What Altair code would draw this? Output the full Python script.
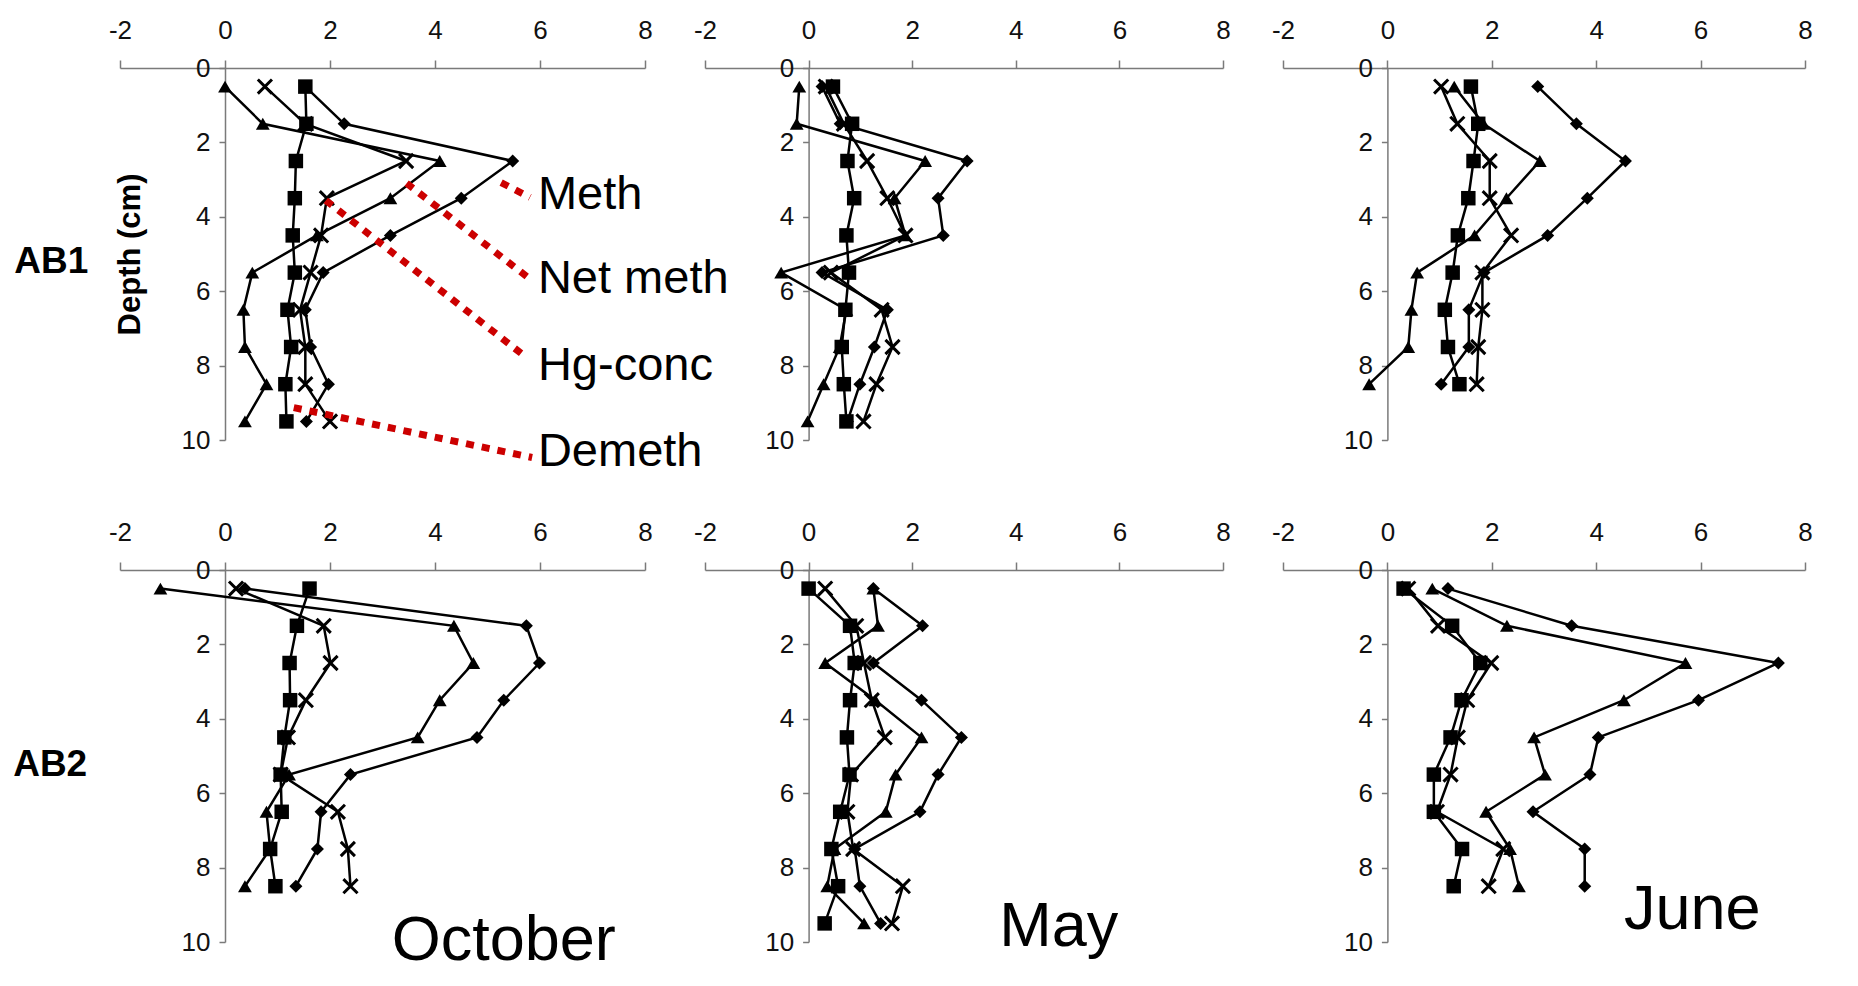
import altair as alt
import pandas as pd

FONT = "Liberation Sans"

SITES = ["AB1", "AB2"]
MONTHS = ["October", "May", "June"]
SERIES = ["Meth", "Net meth", "Hg-conc", "Demeth"]
X_TICKS = [-2, 0, 2, 4, 6, 8]
Y_TICKS = [0, 2, 4, 6, 8, 10]

DEPTH_10 = [0.5, 1.5, 2.5, 3.5, 4.5, 5.5, 6.5, 7.5, 8.5, 9.5]
DEPTH_9 = [0.5, 1.5, 2.5, 3.5, 4.5, 5.5, 6.5, 7.5, 8.5]

# AB1 - October
AB1_OCT_METH = [1.53, 2.27, 5.48, 4.50, 3.15, 1.87, 1.53, 1.63, 1.97, 1.55]
AB1_OCT_NET = [0.00, 0.72, 4.09, 3.15, 1.75, 0.52, 0.35, 0.38, 0.79, 0.38]
AB1_OCT_HG = [0.76, 1.53, 3.45, 1.94, 1.83, 1.63, 1.43, 1.53, 1.53, 2.00]
AB1_OCT_DEMETH = [1.53, 1.55, 1.35, 1.33, 1.29, 1.33, 1.19, 1.26, 1.15, 1.17]

# AB1 - May
AB1_MAY_METH = [0.26, 0.61, 3.06, 2.50, 2.60, 0.26, 1.52, 1.27, 0.99, 0.75]
AB1_MAY_NET = [-0.18, -0.23, 2.25, 1.66, 1.87, -0.53, 0.73, 0.60, 0.29, -0.02]
AB1_MAY_HG = [0.33, 0.68, 1.13, 1.52, 1.87, 0.43, 1.41, 1.62, 1.31, 1.06]
AB1_MAY_DEMETH = [0.47, 0.84, 0.75, 0.88, 0.73, 0.78, 0.71, 0.64, 0.68, 0.73]

# AB1 - June
AB1_JUN_METH = [2.88, 3.62, 4.56, 3.83, 3.07, 1.85, 1.56, 1.56, 1.03]
AB1_JUN_NET = [1.28, 1.84, 2.92, 2.28, 1.67, 0.57, 0.46, 0.40, -0.35]
AB1_JUN_HG = [1.03, 1.34, 1.96, 1.96, 2.37, 1.82, 1.82, 1.74, 1.71]
AB1_JUN_DEMETH = [1.60, 1.74, 1.65, 1.55, 1.35, 1.25, 1.10, 1.16, 1.38]

# AB2 - October
AB2_OCT_METH = [0.38, 5.74, 5.99, 5.31, 4.80, 2.39, 1.83, 1.76, 1.35]
AB2_OCT_NET = [-1.23, 4.36, 4.73, 4.09, 3.67, 1.22, 0.79, 0.86, 0.38]
AB2_OCT_HG = [0.21, 1.88, 2.01, 1.54, 1.20, 1.06, 2.15, 2.34, 2.39]
AB2_OCT_DEMETH = [1.61, 1.37, 1.23, 1.24, 1.13, 1.06, 1.08, 0.86, 0.96]

# AB2 - May
AB2_MAY_METH = [1.25, 2.20, 1.25, 2.18, 2.95, 2.50, 2.15, 0.89, 0.99, 1.39]
AB2_MAY_NET = [1.25, 1.34, 0.32, 1.29, 2.18, 1.68, 1.49, 0.50, 0.36, 1.07]
AB2_MAY_HG = [0.32, 0.92, 1.07, 1.22, 1.47, 0.82, 0.75, 0.86, 1.82, 1.61]
AB2_MAY_DEMETH = [0.00, 0.80, 0.89, 0.80, 0.74, 0.79, 0.61, 0.44, 0.57, 0.31]

# AB2 - June
AB2_JUN_METH = [1.16, 3.53, 7.49, 5.96, 4.04, 3.88, 2.79, 3.78, 3.78]
AB2_JUN_NET = [0.86, 2.29, 5.71, 4.53, 2.81, 3.02, 1.89, 2.35, 2.52]
AB2_JUN_HG = [0.40, 0.97, 1.99, 1.53, 1.35, 1.21, 0.95, 2.22, 1.94]
AB2_JUN_DEMETH = [0.31, 1.24, 1.78, 1.42, 1.21, 0.89, 0.89, 1.43, 1.27]

PANELS = {
    ("AB1", "October"): (DEPTH_10, [AB1_OCT_METH, AB1_OCT_NET, AB1_OCT_HG, AB1_OCT_DEMETH]),
    ("AB1", "May"): (DEPTH_10, [AB1_MAY_METH, AB1_MAY_NET, AB1_MAY_HG, AB1_MAY_DEMETH]),
    ("AB1", "June"): (DEPTH_9, [AB1_JUN_METH, AB1_JUN_NET, AB1_JUN_HG, AB1_JUN_DEMETH]),
    ("AB2", "October"): (DEPTH_9, [AB2_OCT_METH, AB2_OCT_NET, AB2_OCT_HG, AB2_OCT_DEMETH]),
    ("AB2", "May"): (DEPTH_10, [AB2_MAY_METH, AB2_MAY_NET, AB2_MAY_HG, AB2_MAY_DEMETH]),
    ("AB2", "June"): (DEPTH_9, [AB2_JUN_METH, AB2_JUN_NET, AB2_JUN_HG, AB2_JUN_DEMETH]),
}

# annotation placement (data units of the panel they sit in)
SERIES_LABEL_X = [5.96, 5.96, 5.96, 5.96]
SERIES_LABEL_Y = [3.78, 6.06, 8.40, 10.69]
POINTER_X = [5.26, 3.46, 1.92, 1.31]
POINTER_Y = [3.08, 3.10, 3.56, 9.13]
POINTER_X2 = [5.81, 5.77, 5.64, 5.85]
POINTER_Y2 = [3.48, 5.63, 7.67, 10.47]
SITE_LABEL_POS = {"AB1": (-3.31, 5.52), "AB2": (-3.33, 5.55)}
MONTH_LABEL_POS = {"October": (5.31, 10.49), "May": (4.83, 10.1), "June": (5.84, 9.65)}

COL_WIDTHS = [525, 518, 522]
PANEL_HEIGHT = 372

rows = []
for site, month in PANELS:
    depths, series_vals = PANELS[(site, month)]
    for name, vals in zip(SERIES, series_vals):
        for d, v in zip(depths, vals):
            rows.append({"site": site, "month": month, "series": name, "depth": d, "value": v})
df = pd.DataFrame(rows)

GRAY = "#7a7a7a"
FILLED_SERIES = ["Meth", "Net meth", "Demeth"]
FILLED_SHAPES = ["diamond", "triangle-up", "square"]
FILLED_SIZES = [170, 210, 200]
X_PATH = "M-1,-1L1,1M-1,1L1,-1"


def make_panel(site, month, width, col):
    d = df[(df.site == site) & (df.month == month)]
    xaxis = alt.Axis(
        orient="top", values=X_TICKS, grid=False, tickSize=8, tickWidth=1.5,
        tickColor=GRAY, domainColor=GRAY, domainWidth=1.5, labelPadding=17,
        labelFontSize=26, labelFont=FONT, labelColor="#111111", labelFlush=False,
        labelOverlap=False, labelExpr="datum.value + ''",
    )
    ykw = dict(
        orient="left", values=Y_TICKS, grid=False, tickSize=6, tickWidth=1.5,
        tickColor=GRAY, domainColor=GRAY, domainWidth=1.5, labelPadding=9,
        labelFontSize=26, labelFont=FONT, labelColor="#111111", labelFlush=False,
        labelOverlap=False, offset=-width * 0.2, labelExpr="datum.value + ''",
    )
    is_first = site == "AB1" and col == 0
    if is_first:
        ykw.update(titleFontSize=31, titleFontWeight="bold",
                   titleFont=FONT, titleColor="black", titlePadding=35)
    x = alt.X("value:Q", scale=alt.Scale(domain=[-2, 8], nice=False, zero=False),
              axis=xaxis, title=None)
    y = alt.Y("depth:Q", scale=alt.Scale(domain=[0, 10], reverse=True, nice=False, zero=False),
              axis=alt.Axis(**ykw), title="Depth (cm)" if is_first else None)

    base = alt.Chart(d)
    lines = base.mark_line(color="black", strokeWidth=2.5).encode(
        x=x, y=y, detail="series:N", order="depth:Q")
    filled_pts = base.transform_filter(
        alt.FieldOneOfPredicate(field="series", oneOf=FILLED_SERIES)
    ).mark_point(filled=True, color="black", opacity=1, strokeWidth=0).encode(
        x=x, y=y,
        shape=alt.Shape("series:N", scale=alt.Scale(domain=FILLED_SERIES, range=FILLED_SHAPES), legend=None),
        size=alt.Size("series:N", scale=alt.Scale(domain=FILLED_SERIES, range=FILLED_SIZES), legend=None),
    )
    x_pts = base.transform_filter(
        alt.FieldEqualPredicate(field="series", equal="Hg-conc")
    ).mark_point(shape=X_PATH, filled=False, color="black", opacity=1,
                 strokeWidth=3, size=200).encode(x=x, y=y)
    layers = [lines, filled_pts, x_pts]

    if site == "AB1" and month == "October":
        ptr = pd.DataFrame({"value": POINTER_X, "depth": POINTER_Y,
                            "value2": POINTER_X2, "depth2": POINTER_Y2, "label": SERIES})
        layers.append(alt.Chart(ptr).mark_rule(color="#cc0000", strokeWidth=7,
                                               strokeDash=[8, 8], strokeCap="butt").encode(
            x=x, y=y, x2="value2:Q", y2="depth2:Q"))
        lab = pd.DataFrame({"value": SERIES_LABEL_X, "depth": SERIES_LABEL_Y, "label": SERIES})
        layers.append(alt.Chart(lab).mark_text(align="left", baseline="alphabetic", fontSize=47,
                                               font=FONT, color="black").encode(
            x=x, y=y, text="label:N"))

    if col == 0:
        sx, sy = SITE_LABEL_POS[site]
        sdf = pd.DataFrame({"value": [sx], "depth": [sy], "label": [site]})
        layers.append(alt.Chart(sdf).mark_text(align="center", baseline="alphabetic", fontSize=37,
                                               fontWeight="bold", font=FONT, color="black").encode(
            x=x, y=y, text="label:N"))

    if site == "AB2":
        mx, my = MONTH_LABEL_POS[month]
        mdf = pd.DataFrame({"value": [mx], "depth": [my], "label": [month]})
        layers.append(alt.Chart(mdf).mark_text(align="center", baseline="alphabetic", fontSize=63,
                                               font=FONT, color="black").encode(
            x=x, y=y, text="label:N"))

    return alt.layer(*layers).properties(width=width, height=PANEL_HEIGHT)


row_charts = []
for site in SITES:
    panels = [make_panel(site, m, COL_WIDTHS[i], i) for i, m in enumerate(MONTHS)]
    row_charts.append(alt.hconcat(*panels, spacing=60, bounds="flush"))

chart = alt.vconcat(*row_charts, spacing=44).properties(
    padding={"left": 5, "top": 9, "right": 5, "bottom": 5}
).configure(font=FONT).configure_view(stroke=None, strokeWidth=0)

chart.save("out.html", embed_options={"renderer": "svg", "actions": False})
